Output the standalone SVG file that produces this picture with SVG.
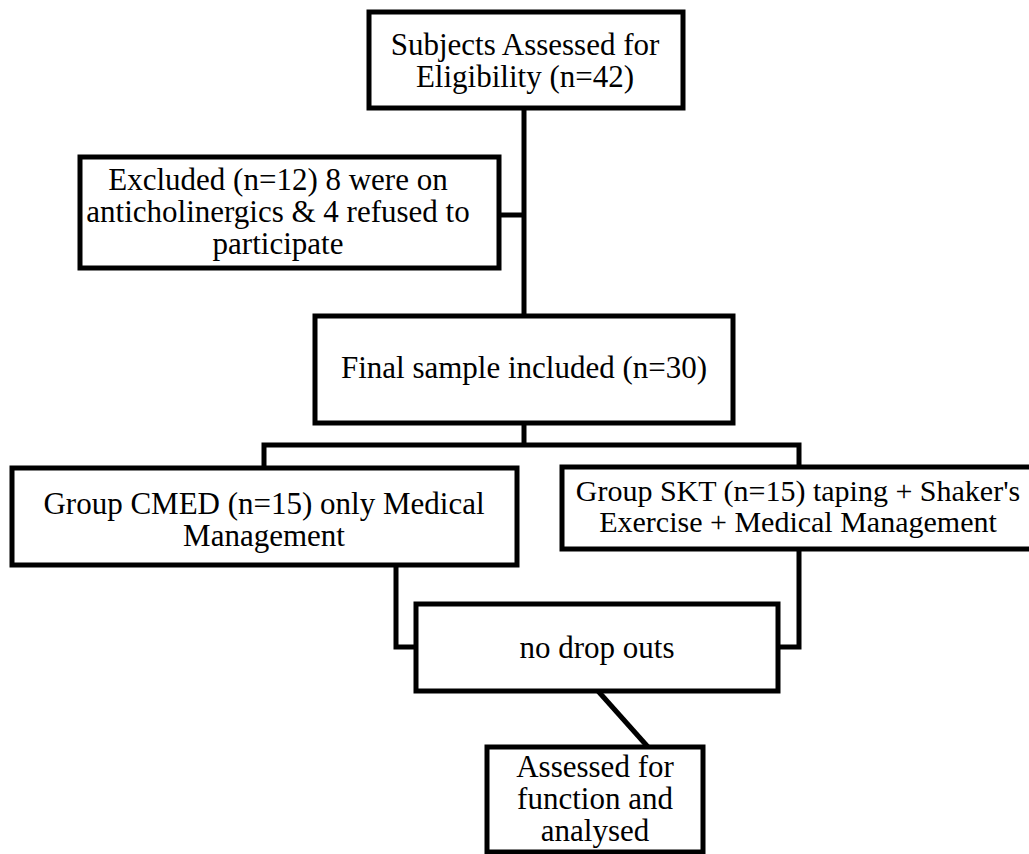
<svg xmlns="http://www.w3.org/2000/svg" width="1029" height="854" viewBox="0 0 1029 854">
<style>
.box{fill:#fff;stroke:#000;stroke-width:5}
.ln{fill:none;stroke:#000;stroke-width:5;stroke-linejoin:miter}
text{font-family:"Liberation Serif","Times New Roman",serif;font-size:31px;fill:#000;text-anchor:middle}
.sm{font-size:30px}
</style>
<rect width="1029" height="854" fill="#fff"/>
<g id="connectors">
<path class="ln" d="M524 108 V316"/>
<path class="ln" d="M499 215 H524"/>
<path class="ln" d="M524 423 V445"/>
<path class="ln" d="M264 468 V445 H799 V467"/>
<path class="ln" d="M396 565 V647 H416"/>
<path class="ln" d="M799 549 V647 H778"/>
<path class="ln" d="M598 691 L648 747"/>
</g>
<g id="n1"><rect class="box" x="369" y="12" width="314" height="96"/>
<text x="525" y="55">Subjects Assessed for</text><text x="525" y="87">Eligibility (n=42)</text></g>
<g id="n2"><rect class="box" x="80" y="157" width="419" height="111"/>
<text x="278" y="190">Excluded (n=12) 8 were on</text><text x="278" y="222">anticholinergics &amp; 4 refused to</text><text x="278" y="254">participate</text></g>
<g id="n3"><rect class="box" x="315" y="316" width="418" height="107"/>
<text x="524" y="378">Final sample included (n=30)</text></g>
<g id="n4"><rect class="box" x="12" y="468" width="505" height="97"/>
<text x="264" y="514">Group CMED (n=15) only Medical</text><text x="264" y="546">Management</text></g>
<g id="n5"><rect class="box" x="562" y="467" width="472" height="82"/>
<text class="sm" x="798" y="501">Group SKT (n=15) taping + Shaker's</text><text class="sm" x="798" y="532">Exercise + Medical Management</text></g>
<g id="n6"><rect class="box" x="416" y="604" width="362" height="87"/>
<text x="597" y="658">no drop outs</text></g>
<g id="n7"><rect class="box" x="487" y="747" width="216" height="105"/>
<text x="595" y="777">Assessed for</text><text x="595" y="809">function and</text><text x="595" y="841">analysed</text></g>
</svg>
